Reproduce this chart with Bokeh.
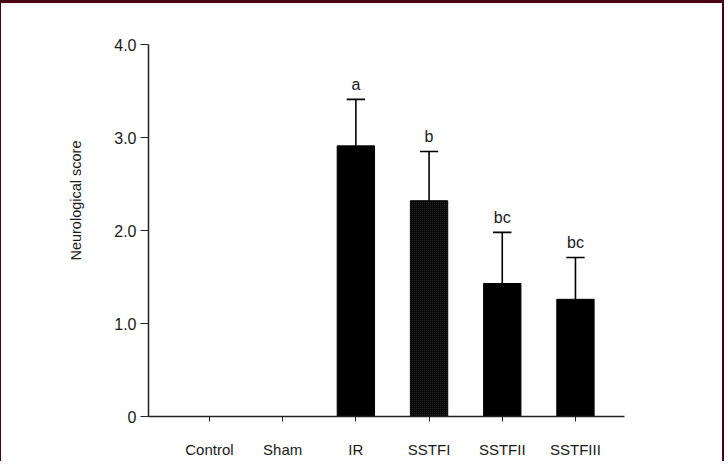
from bokeh.plotting import figure
from bokeh.models import Range1d, FixedTicker, Title, ColumnDataSource
from bokeh.embed import file_html
from bokeh.resources import INLINE

groups = ["Control", "Sham", "IR", "SSTFI", "SSTFII", "SSTFIII"]
means = [0.0, 0.0, 2.91, 2.32, 1.43, 1.26]
upper = [0.0, 0.0, 3.41, 2.85, 1.98, 1.71]
letters = ["", "", "a", "b", "bc", "bc"]
y_ticks = [0, 1, 2, 3, 4]
y_tick_labels = ["0", "1.0", "2.0", "3.0", "4.0"]

xs = list(range(len(groups)))
fills = ["#000000", "#000000", "#000000", "#0a0a0a", "#000000", "#000000"]

FONT = "Liberation Sans"
INK = "#1a1a1a"

p = figure(width=724, height=461, output_backend="svg", toolbar_location=None,
           x_range=Range1d(-0.833, 5.67), y_range=Range1d(0, 4.0),
           min_border_left=147, min_border_right=101, min_border_top=41, min_border_bottom=48)
p.styles = {"border-top": "3px solid #4a0012", "border-left": "1px solid #4a0012",
            "border-right": "2px solid #4a0012"}
p.outline_line_color = None
p.grid.visible = False
p.background_fill_color = "white"

src = ColumnDataSource(dict(x=xs, top=means, up=upper, fill=fills, lab=letters))

p.vbar(x="x", top="top", bottom=0, width=0.51, source=src, fill_color="fill",
       line_color="black", line_width=1)
# stipple texture for SSTFI
p.vbar(x=[xs[3]], top=[means[3]], bottom=0, width=0.51, fill_alpha=0,
       line_color=None, hatch_pattern=".", hatch_color="#2a2a2a", hatch_scale=2)

# upper error bars
p.segment(x0="x", y0="top", x1="x", y1="up", source=src, line_color="black", line_width=1.6)
p.segment(x0=[x - 0.125 for x in xs[2:]], y0=upper[2:], x1=[x + 0.125 for x in xs[2:]],
          y1=upper[2:], line_color="black", line_width=1.6)

p.text(x="x", y="up", text="lab", source=src, y_offset=-15, text_align="center",
       text_baseline="alphabetic", text_font_size="16px", text_color=INK,
       text_font={"value": FONT})

xa = p.xaxis[0]
xa.ticker = FixedTicker(ticks=xs)
xa.major_label_overrides = {i: g for i, g in enumerate(groups)}
xa.minor_tick_line_color = None
xa.major_tick_in = 0
xa.major_tick_out = 5
xa.major_label_standoff = 19
xa.major_label_text_font = FONT
xa.major_label_text_font_size = "15px"
xa.major_label_text_color = INK
xa.axis_line_width = 1.5
xa.axis_line_color = "#222222"
xa.major_tick_line_color = "#222222"

ya = p.yaxis[0]
ya.ticker = FixedTicker(ticks=y_ticks)
ya.major_label_overrides = {t: l for t, l in zip(y_ticks, y_tick_labels)}
ya.minor_tick_line_color = None
ya.major_tick_in = 0
ya.major_tick_out = 8
ya.major_label_standoff = 4
ya.major_label_text_font = FONT
ya.major_label_text_font_size = "16px"
ya.major_label_text_color = INK
ya.axis_line_width = 1.5
ya.axis_line_color = "#222222"
ya.major_tick_line_color = "#222222"

ylab = Title(text="Neurological score", align="right", offset=96, standoff=55,
             text_font=FONT, text_font_size="14.5px", text_font_style="normal",
             text_color=INK)
p.add_layout(ylab, "left")

open("out.html", "w").write(file_html(p, INLINE))
